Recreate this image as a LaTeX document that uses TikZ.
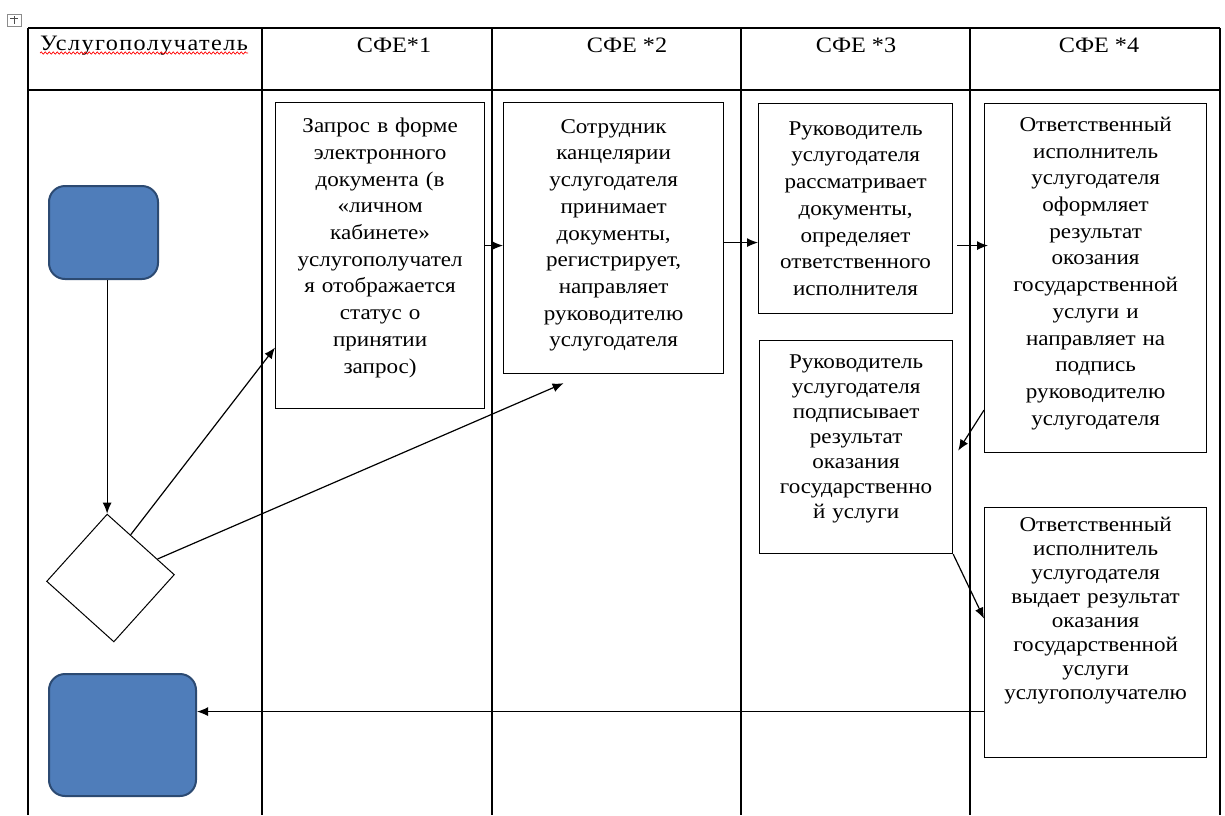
\documentclass[tikz,border=0pt]{standalone}
\usepackage{fontspec}
\setmainfont{Liberation Serif}[FakeStretch=1.1]
\newfontfamily\trackedfont{Liberation Serif}[FakeStretch=1.1, LetterSpace=6.5]
\usetikzlibrary{shapes.geometric,arrows.meta,decorations.pathmorphing}

\definecolor{termfill}{HTML}{4F7DBA}
\definecolor{termedge}{HTML}{2C4A72}

% extra depth under the last line, lifts the text in its box
\newcommand\lift[1]{\rule[-#1]{0pt}{0pt}}

\tikzset{
  lane/.style={line width=1.3pt},
  stepbox/.style={draw, line width=1.2pt, anchor=north west, align=center,
    inner sep=2pt, font=\fontsize{21}{26.7}\selectfont},
  term/.style={draw=termedge, fill=termfill, line width=2pt,
    rounded corners=16pt, anchor=north west, inner sep=0pt},
  flow/.style={line width=1.2pt, -{Latex[length=11pt,width=9pt]}},
  headtext/.style={font=\fontsize{22}{25}\selectfont, inner sep=0pt}
}

\begin{document}
\begin{tikzpicture}[x=1pt,y=-1pt]
\useasboundingbox (0,0) rectangle (1225,815);

% table handle
\draw[black!45, line width=0.6pt] (7,14) rectangle (21,26);
\draw[black!70, line width=0.8pt] (10,18) -- (18,18) (14,16) -- (14,24);

% lanes
\draw[lane] (28,28) -- (1220,28);
\draw[lane] (28,90) -- (1220,90);
\foreach \x in {28,262,492,741,970,1220}
  \draw[lane] (\x,28) -- (\x,815);

% lane titles
\node[headtext, anchor=base west] (h0) at (40,50) {\trackedfont Услугополучатель};
\node[headtext, anchor=base] (h1) at (394,52) {СФЕ*1};
\node[headtext, anchor=base] (h2) at (627,52) {СФЕ *2};
\node[headtext, anchor=base] (h3) at (856,52) {СФЕ *3};
\node[headtext, anchor=base] (h4) at (1099,52) {СФЕ *4};
\draw[red, line width=0.7pt, decorate,
      decoration={snake, amplitude=1.1pt, segment length=4pt}]
  ([yshift=-3pt]h0.base west) -- ([yshift=-3pt]h0.base east);

% start, decision, end
\node[term, minimum width=109pt, minimum height=93pt] (start) at (48,185) {};
\node[draw, diamond, line width=1pt, minimum width=128pt, minimum height=128pt,
      inner sep=0pt, rotate=3] (dia) at (110.5,578) {};
\node[term, minimum width=147pt, minimum height=122pt] (end) at (48,673) {};

% steps
\node[stepbox, minimum width=209pt, minimum height=306pt, text width=203pt] (b1) at (275,102)
  {Запрос в форме\\ электронного\\ документа (в\\ «личном\\ кабинете»\\
   услугополучател\\ я отображается\\ статус о\\ принятии\\ запрос)\lift{20pt}};
\node[stepbox, minimum width=220pt, minimum height=271pt, text width=214pt] (b2) at (503,102)
  {Сотрудник\\ канцелярии\\ услугодателя\\ принимает\\ документы,\\
   регистрирует,\\ направляет\\ руководителю\\ услугодателя\lift{10pt}};
\node[stepbox, minimum width=194pt, minimum height=210pt, text width=188pt] (b3) at (758,103)
  {Руководитель\\ услугодателя\\ рассматривает\\ документы,\\ определяет\\
   ответственного\\ исполнителя};
\node[stepbox, minimum width=222pt, minimum height=349pt, text width=216pt] (b4) at (984,103)
  {Ответственный\\ исполнитель\\ услугодателя\\ оформляет\\ результат\\ окозания\\
   государственной\\ услуги и\\ направляет на\\ подпись\\ руководителю\\ услугодателя\lift{14pt}};
\node[stepbox, minimum width=193pt, minimum height=213pt, text width=187pt,
      font=\fontsize{21}{25}\selectfont] (b3b) at (759,340)
  {Руководитель\\ услугодателя\\ подписывает\\ результат\\ оказания\\
   государственно\\ й услуги\lift{21pt}};
\node[stepbox, minimum width=222pt, minimum height=250pt, text width=216pt,
      font=\fontsize{21}{24}\selectfont] (b4b) at (984,507)
  {Ответственный\\ исполнитель\\ услугодателя\\ выдает результат\\ оказания\\
   государственной\\ услуги\\ услугополучателю\lift{49pt}};

% connectors
\draw[flow] (dia.north |- start.south) -- (dia.north);
\draw[flow] (dia.62) -- ([yshift=-92pt]b1.west);
\draw[flow] (dia.19) -- ([xshift=-50pt,yshift=-9pt]b2.south);
\draw[flow] ([yshift=10pt]b1.east) -- ([yshift=10pt]b1.east -| b2.west);
\draw[flow] ([yshift=-4.5pt]b2.east) -- ([yshift=-4.5pt]b2.east -| b3.west);
\draw[flow] ([xshift=4pt,yshift=-37pt]b3.east) -- ([xshift=4pt,yshift=-37pt]b3.east -| b4.west);
\draw[flow] ([yshift=-132pt]b4.west) -- ([xshift=5pt,yshift=-3.5pt]b3b.east);
\draw[flow] (b3b.south east) -- ([yshift=14pt]b4b.west);
\draw[flow] ([yshift=-79pt]b4b.west) -- ([yshift=-79pt]b4b.west -| end.east);
\end{tikzpicture}
\end{document}
